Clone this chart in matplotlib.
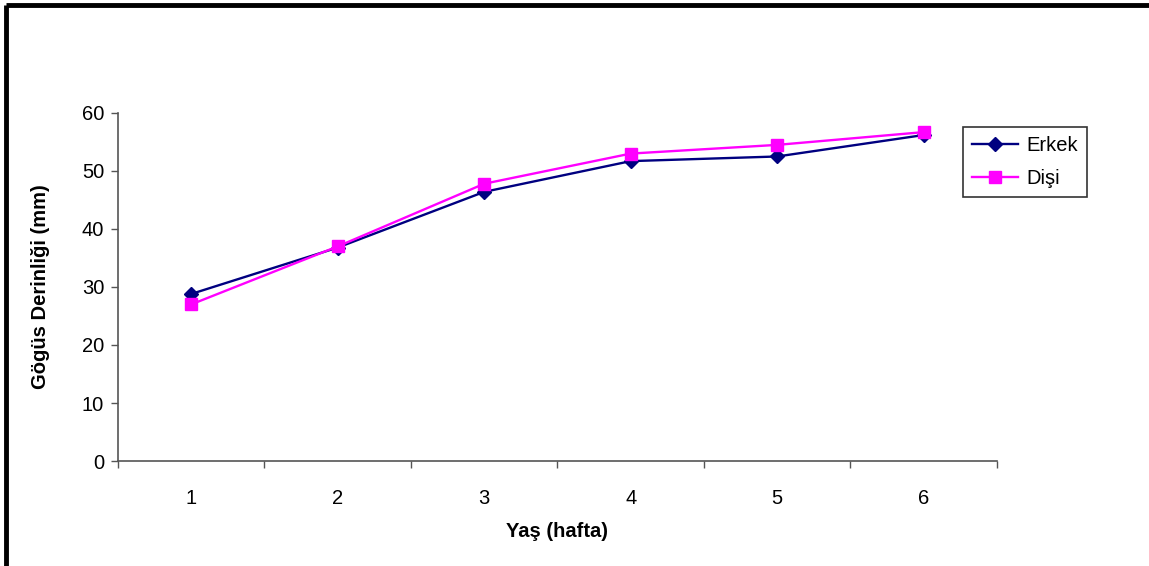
import matplotlib
matplotlib.use("Agg")
import matplotlib.pyplot as plt
from matplotlib.lines import Line2D

weeks = ["1", "2", "3", "4", "5", "6"]
erkek = [28.8, 36.8, 46.4, 51.7, 52.5, 56.2]
disi = [27.0, 37.0, 47.8, 53.0, 54.5, 56.7]

plt.rcParams["font.family"] = ["Liberation Sans", "DejaVu Sans"]

fig = plt.figure(figsize=(11.49, 5.66), dpi=100)
ax = fig.add_axes([0.1027, 0.1855, 0.765, 0.6149])

x = list(range(1, len(weeks) + 1))
ax.plot(x, erkek, color="#000080", lw=1.7, marker="D", ms=7,
        mfc="#000080", mec="#000080", label="Erkek", zorder=3)
ax.plot(x, disi, color="#FF00FF", lw=1.7, marker="s", ms=8.5,
        mfc="#FF00FF", mec="#FF00FF", label="Dişi", zorder=4)

ax.set_xlim(0.5, len(weeks) + 0.5)
ax.set_ylim(0, 60)
ax.set_yticks(range(0, 61, 10))
ax.set_xticks(x)
ax.set_xticklabels(weeks)
ax.set_xticks([i + 0.5 for i in range(len(weeks) + 1)], minor=True)
ax.tick_params(axis="x", which="major", length=0, pad=20, labelsize=14.5)
ax.tick_params(axis="x", which="minor", length=5, width=1, color="#555555")
ax.tick_params(axis="y", length=5, width=1, color="#555555", labelsize=14.5, pad=5)

for side in ("top", "right"):
    ax.spines[side].set_visible(False)
for side in ("left", "bottom"):
    ax.spines[side].set_color("#555555")
    ax.spines[side].set_linewidth(1.2)

ax.set_xlabel("Yaş (hafta)", fontsize=14.5, fontweight="bold", labelpad=10)
ax.set_ylabel("Gögüs Derinliği (mm)", fontsize=14.5, fontweight="bold", labelpad=23)

leg = fig.legend(loc="upper left", bbox_to_anchor=(0.829, 0.793),
                 fontsize=14.5, frameon=True, fancybox=False, framealpha=1,
                 edgecolor="#333333", handlelength=2.3, borderpad=0.45,
                 labelspacing=0.7, handletextpad=0.4)
leg.get_frame().set_linewidth(1.2)

# outer frame lines along the top and left edges
fig.add_artist(Line2D([0.005, 1.0], [0.991, 0.991], transform=fig.transFigure,
                      color="black", lw=3.5, solid_capstyle="butt"))
fig.add_artist(Line2D([0.005, 0.005], [0.0, 0.991], transform=fig.transFigure,
                      color="black", lw=3.5, solid_capstyle="butt"))

fig.savefig("out.png", dpi=100)
